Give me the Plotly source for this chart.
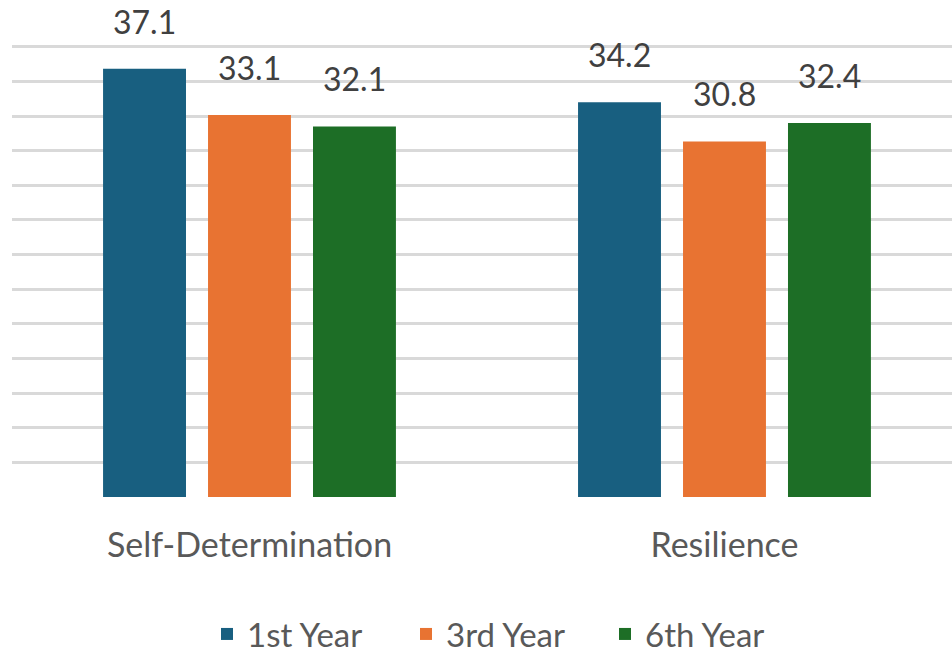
import plotly.graph_objects as go

categories = ["Self-Determination", "Resilience"]
series_names = ["1st Year", "3rd Year", "6th Year"]
values_1st = [37.1, 34.2]
values_3rd = [33.1, 30.8]
values_6th = [32.1, 32.4]
colors = ["#185F80", "#E87332", "#1D6E26"]

FONT = "Lato, Open Sans, sans-serif"
SLOT_PX = 105  # pixel spacing between bars inside a group

fig = go.Figure()
all_vals = [values_1st, values_3rd, values_6th]
for name, vals, col in zip(series_names, all_vals, colors):
    fig.add_trace(go.Bar(
        x=categories, y=vals, name=name, marker_color=col, marker_line_width=0,
    ))

for j, vals in enumerate(all_vals):
    for cat, v in zip(categories, vals):
        fig.add_annotation(
            x=cat, y=v, xref="x", yref="y", text=f"{v:.1f}", showarrow=False,
            xshift=(j - 1) * SLOT_PX, yshift=26, yanchor="bottom", xanchor="center",
            font=dict(family=FONT, size=32, color="#404040"),
        )

fig.update_layout(
    width=952, height=654,
    margin=dict(l=12, r=0, t=41, b=157),
    paper_bgcolor="white", plot_bgcolor="white",
    barmode="group", bargap=0.337, bargroupgap=0.21,
    showlegend=True,
    legend=dict(orientation="h", x=0.525, xanchor="center",
                yref="container", y=1 - 634 / 654, yanchor="middle",
                font=dict(family=FONT, size=33, color="#595959"),
                entrywidth=154, entrywidthmode="pixels", tracegroupgap=0),
)
fig.update_xaxes(
    range=[-0.5, 1.479], showgrid=False, showline=False, zeroline=False,
    ticks="outside", ticklen=18, tickcolor="rgba(0,0,0,0)",
    tickfont=dict(family=FONT, size=34, color="#595959"),
)
fig.update_yaxes(
    range=[0, 39.5], dtick=3, showgrid=True, gridcolor="#D9D9D9", gridwidth=3,
    zeroline=False, showticklabels=False, showline=False,
)
fig.write_html("out.html")
